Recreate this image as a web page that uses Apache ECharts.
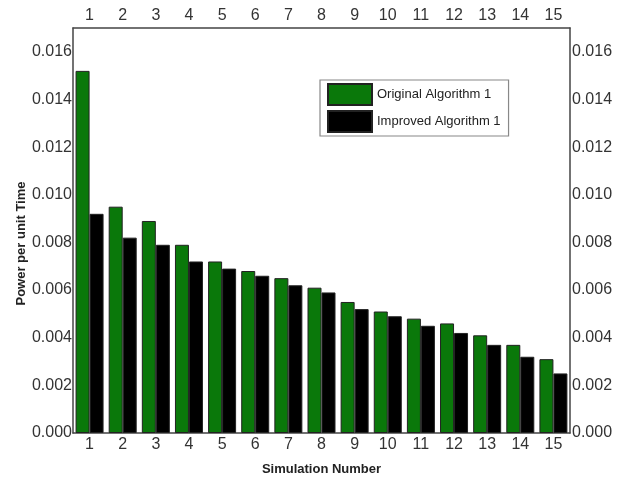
<!DOCTYPE html>
<html>
<head>
<meta charset="utf-8">
<script src="https://cdn.jsdelivr.net/npm/echarts@6/dist/echarts.min.js"></script>
<style>html,body{margin:0;padding:0;background:#fff;}#c{width:625px;height:481px;}</style>
</head>
<body>
<div id="c"></div>
<script>
var categories = ['1','2','3','4','5','6','7','8','9','10','11','12','13','14','15'];
var originalValues = [0.0152,0.0095,0.0089,0.0079,0.0072,0.0068,0.0065,0.0061,0.0055,0.0051,0.0048,0.0046,0.0041,0.0037,0.0031];
var improvedValues = [0.0092,0.0082,0.0079,0.0072,0.0069,0.0066,0.0062,0.0059,0.0052,0.0049,0.0045,0.0042,0.0037,0.0032,0.0025];
var seriesNames = ['Original Algorithm 1','Improved Algorithm 1'];

var FONT = 'Liberation Sans, Arial, sans-serif';
var axisLineStyle = {color:'#444', width:1.5};
var chart = echarts.init(document.getElementById('c'));
var yLabel = {fontFamily:FONT, fontSize:16, color:'#333', showMaxLabel:false, formatter:function(v){return v.toFixed(3);}};
chart.setOption({
  animation:false,
  backgroundColor:'#fff',
  grid:{left:73, right:55, top:28, bottom:48},
  legend:{
    orient:'vertical', left:320, top:80,
    padding:[3,8,3,7], itemGap:4,
    itemWidth:44, itemHeight:21,
    backgroundColor:'#fff', borderColor:'#888', borderWidth:1.2,
    textStyle:{fontFamily:FONT, fontSize:13, color:'#222'},
    data:seriesNames.map(function(n){return {name:n, icon:'rect'};})
  },
  xAxis:[
    {type:'category', data:categories, position:'bottom',
     name:'Simulation Number', nameLocation:'middle', nameGap:30,
     nameTextStyle:{fontFamily:FONT, fontSize:13, fontWeight:'bold', color:'#222'},
     axisLine:{onZero:false, lineStyle:axisLineStyle}, axisTick:{show:false},
     axisLabel:{fontFamily:FONT, fontSize:16, color:'#333', margin:4}},
    {type:'category', data:categories, position:'top',
     axisLine:{onZero:false, lineStyle:axisLineStyle}, axisTick:{show:false},
     axisLabel:{fontFamily:FONT, fontSize:16, color:'#333', margin:4}}
  ],
  yAxis:[
    {type:'value', min:0, max:0.017, interval:0.002, position:'left',
     name:'Power per unit Time', nameLocation:'middle', nameGap:45, nameMoveOverlap:false,
     nameTextStyle:{fontFamily:FONT, fontSize:13, fontWeight:'bold', color:'#222', padding:[0,26,0,0]},
     axisLine:{show:true, onZero:false, lineStyle:axisLineStyle}, axisTick:{show:false},
     splitLine:{show:false}, axisLabel:Object.assign({margin:1}, yLabel)},
    {type:'value', min:0, max:0.017, interval:0.002, position:'right',
     axisLine:{show:true, onZero:false, lineStyle:axisLineStyle}, axisTick:{show:false},
     splitLine:{show:false}, axisLabel:Object.assign({margin:2}, yLabel)}
  ],
  series:[
    {name:seriesNames[0], type:'bar', data:originalValues, barWidth:14, barGap:'0%',
     itemStyle:{color:'#0a780a', borderColor:'#222', borderWidth:1}},
    {name:seriesNames[1], type:'bar', data:improvedValues, barWidth:14, barGap:'0%',
     itemStyle:{color:'#000', borderColor:'#222', borderWidth:1}}
  ]
});
</script>
</body>
</html>
